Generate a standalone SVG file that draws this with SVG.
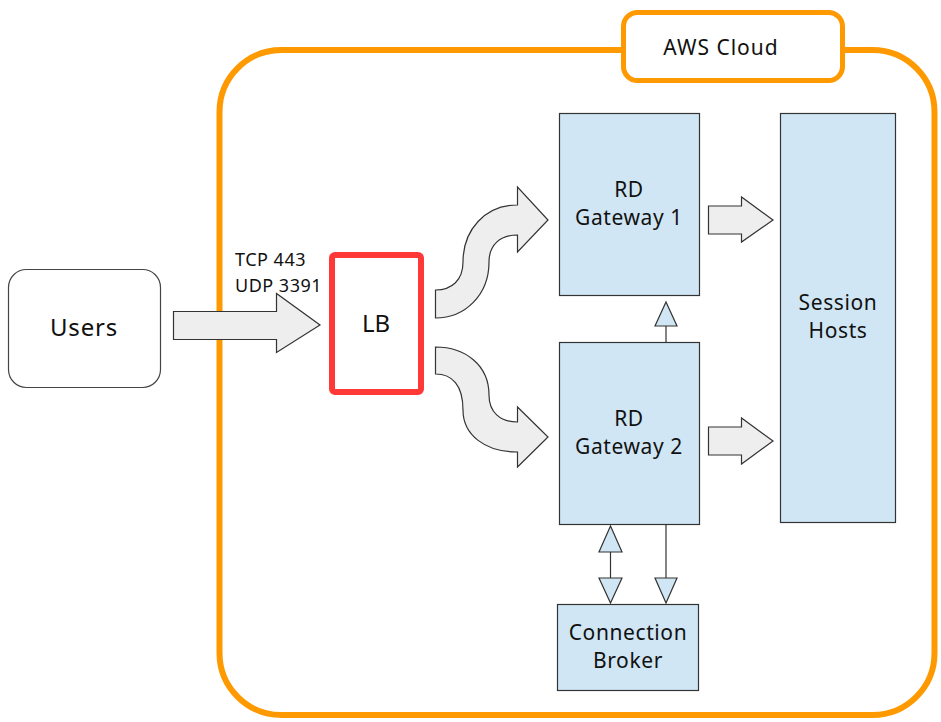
<svg xmlns="http://www.w3.org/2000/svg" width="941" height="722" viewBox="0 0 941 722">
<style>
text{font-family:"Noto Sans","Liberation Sans",sans-serif;fill:#111;text-anchor:middle}
.box{fill:#D0E6F4;stroke:#333;stroke-width:1.2}
.blk{fill:#EEEEEE;stroke:#333;stroke-width:1.2;stroke-linejoin:miter}
.ln{stroke:#333;stroke-width:1.2;fill:none}
.tri{fill:#D0E6F4;stroke:#333;stroke-width:1.2}
.t20{font-size:21px;letter-spacing:0.6px}
</style>
<rect width="941" height="722" fill="#fff"/>
<g id="aws-cloud">
<rect x="219.5" y="50" width="715" height="665" rx="62" fill="none" stroke="#FF9900" stroke-width="6"/>
<rect x="623.5" y="12.5" width="219" height="68" rx="14" fill="#fff" stroke="#FF9900" stroke-width="5"/>
<text x="721" y="55" font-size="21" letter-spacing="1">AWS Cloud</text>
</g>
<g id="users">
<rect x="8.5" y="269.5" width="152" height="118" rx="18" fill="#fff" stroke="#444" stroke-width="1.2"/>
<text x="84" y="336" font-size="24" letter-spacing="0.8">Users</text>
</g>
<g id="lb">
<rect x="332" y="255" width="89" height="137" rx="3" fill="#fff" stroke="#FF3838" stroke-width="6"/>
<text x="376" y="332" font-size="24">LB</text>
</g>
<g id="rd-gateway-1">
<rect class="box" x="559.5" y="113.5" width="140" height="182"/>
<text x="629" y="197" class="t20">RD</text>
<text x="629" y="225" class="t20">Gateway 1</text>
</g>
<g id="rd-gateway-2">
<rect class="box" x="559.5" y="342.5" width="140" height="182"/>
<text x="629" y="426" class="t20">RD</text>
<text x="629" y="454" class="t20">Gateway 2</text>
</g>
<g id="session-hosts">
<rect class="box" x="780.5" y="113.5" width="115" height="409"/>
<text x="838" y="310" class="t20">Session</text>
<text x="838" y="338" class="t20">Hosts</text>
</g>
<g id="connection-broker">
<rect class="box" x="557.5" y="604.5" width="141" height="86"/>
<text x="628" y="640" class="t20">Connection</text>
<text x="628" y="668" class="t20">Broker</text>
</g>
<g id="connectors">
<path class="blk" d="M173.5,311.5 L276.5,311.5 L276.5,293.5 L320,325 L276.5,352.5 L276.5,339.5 L173.5,339.5 Z"/>
<text x="235" y="266" font-size="18" letter-spacing="0.5" style="text-anchor:start">TCP 443</text>
<text x="235" y="292" font-size="18" letter-spacing="0.5" style="text-anchor:start">UDP 3391</text>
<path class="blk" d="M435.5,290 C452,290 463,280 463,262 C463,230 485,205 517.5,205 L517.5,187 L548,220 L517.5,252 L517.5,235 C500,235 489,245 489,262 C489,295 465,318 435.5,318 Z"/>
<path class="blk" d="M435.5,347 C465,347 489,365 489,395 C489,412 500,422 517.5,422 L517.5,407 L548,437 L517.5,467 L517.5,452 C485,452 463,435 463,410 C463,385 452,374 435.5,374 Z"/>
<path class="blk" d="M708.5,206 L741.5,206 L741.5,197 L773,220 L741.5,242 L741.5,234 L708.5,234 Z"/>
<path class="blk" d="M708.5,427 L741.5,427 L741.5,418 L773,441 L741.5,464 L741.5,455 L708.5,455 Z"/>
<line class="ln" x1="666" y1="342" x2="666" y2="326"/>
<path class="tri" d="M666,302 L677,326 L655,326 Z"/>
<line class="ln" x1="610.5" y1="552" x2="610.5" y2="578"/>
<path class="tri" d="M610.5,526 L622,552 L599,552 Z"/>
<path class="tri" d="M610.5,603 L622,578 L599,578 Z"/>
<line class="ln" x1="666" y1="525" x2="666" y2="578"/>
<path class="tri" d="M666,603 L677,578 L655,578 Z"/>
</g>
</svg>
